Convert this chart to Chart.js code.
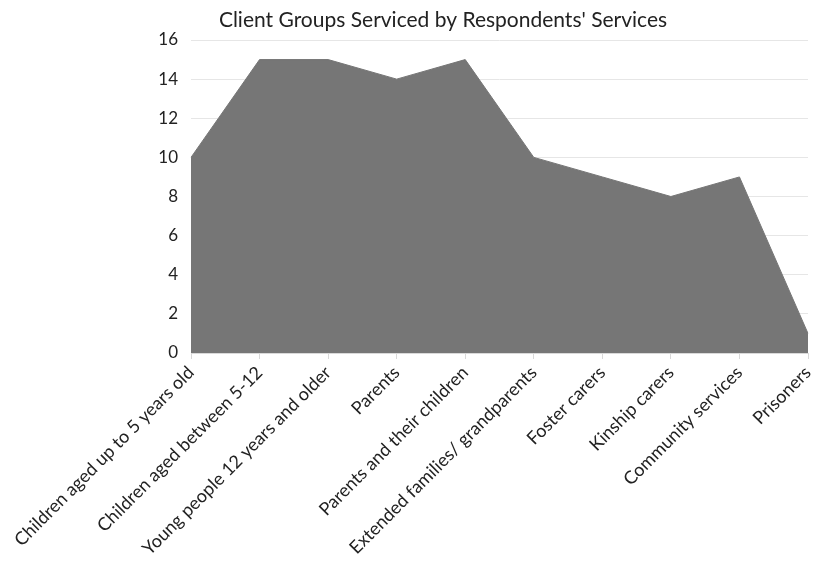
<!DOCTYPE html>
<html><head><meta charset="utf-8">
<script src="https://cdn.jsdelivr.net/npm/chart.js@4"></script>
<style>html,body{margin:0;padding:0;background:#fff}#wrap{width:813px;height:569px}</style>
</head><body><div id="wrap"><canvas id="c" width="813" height="569"></canvas></div>
<script>
const categories = ["Children aged up to 5 years old","Children aged between 5-12","Young people 12 years and older","Parents","Parents and their children","Extended families/ grandparents","Foster carers","Kinship carers","Community services","Prisoners"];
const counts = [10,15,15,14,15,10,9,8,9,1];
const yTicks = [0,2,4,6,8,10,12,14,16];
const titleText = "Client Groups Serviced by Respondents' Services";
const FONT = "Lato";

const titlePlugin = {
  id:'ttl',
  afterDraw(chart){
    const ctx = chart.ctx;
    ctx.save();
    ctx.font = "21px " + FONT;
    ctx.fillStyle = "#222";
    ctx.textAlign = "center";
    ctx.textBaseline = "middle";
    ctx.fillText(titleText, 443, 20);
    ctx.restore();
  }
};

new Chart(document.getElementById('c'), {
  type:'line',
  data:{labels:categories, datasets:[{data:counts, fill:'origin', backgroundColor:'#767676', borderColor:'#767676', borderWidth:1, pointRadius:0, tension:0}]},
  options:{
    responsive:false, animation:false,
    layout:{padding:{top:40,right:5,left:0,bottom:0}},
    plugins:{legend:{display:false}, title:{display:false}, tooltip:{enabled:false}},
    scales:{
      x:{
        offset:false,
        grid:{display:true, drawOnChartArea:false, drawTicks:true, tickLength:6, color:'#d9d9d9'},
        border:{display:true, color:'#d9d9d9'},
        ticks:{maxRotation:45, minRotation:45, autoSkip:false, color:'#222', font:{family:FONT,size:18}, padding:3},
        afterFit(s){ s.height = 216; s.paddingRight = 0; s.paddingLeft = 0; }
      },
      y:{
        min:0, max:16,
        afterBuildTicks(s){ s.ticks = yTicks.map(v=>({value:v})); },
        grid:{color:'#e6e6e6', drawTicks:false},
        border:{display:false},
        ticks:{color:'#222', font:{family:FONT,size:17}, padding:13},
        afterFit(s){ s.width = 191; s.paddingTop = 0; s.paddingBottom = 0; }
      }
    }
  },
  plugins:[titlePlugin]
});
</script></body></html>
